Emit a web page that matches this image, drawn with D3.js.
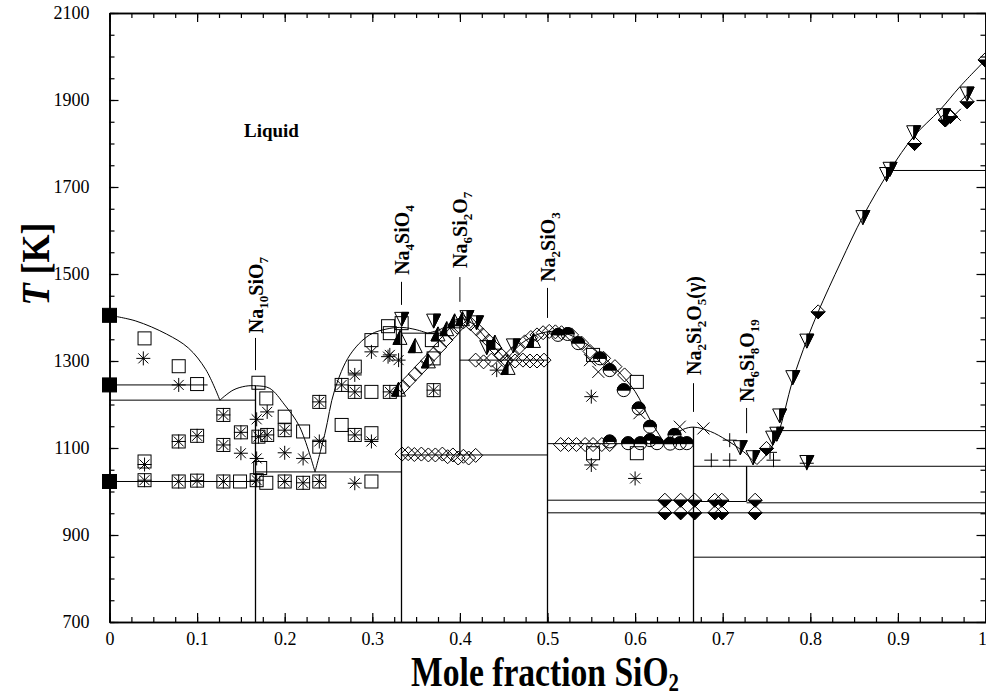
<!DOCTYPE html>
<html><head><meta charset="utf-8">
<script src="https://cdn.jsdelivr.net/npm/d3@7"></script>
<style>body{margin:0;background:#fff}svg{display:block}text{font-family:"Liberation Serif","Times New Roman",serif}</style>
</head><body><svg id="c" width="986" height="696"></svg>
<script>
// ---------- DATA ----------
const xTicks = [0,0.1,0.2,0.3,0.4,0.5,0.6,0.7,0.8,0.9,1];
const yTicks = [700,900,1100,1300,1500,1700,1900,2100];

// liquidus, piecewise between eutectics  [x, T]
const liq1 = [[0,1405],[0.03,1392],[0.065,1362],[0.09,1330],[0.11,1280],[0.126,1210]];
const liq2 = [[0.126,1210],[0.141,1233],[0.155,1242],[0.168,1243],[0.183,1237],[0.2,1199],[0.217,1149],[0.2346,1045]];
const liq3 = [[0.2346,1045],[0.246,1134],[0.257,1233],[0.2745,1314],[0.297,1360],[0.32,1375],[0.335,1377],[0.35,1372],[0.363,1364]];
const liq4 = [[0.363,1364],[0.377,1372],[0.39,1388],[0.4,1398],[0.415,1385],[0.43,1352],[0.453,1302]];
const liq5 = [[0.453,1302],[0.47,1340],[0.49,1362],[0.505,1368],[0.52,1364],[0.54,1345],[0.56,1315],[0.58,1278],[0.6,1230],[0.617,1165],[0.634,1110]];
const liq6 = [[0.634,1110],[0.645,1130],[0.655,1143],[0.667,1148],[0.686,1138],[0.7046,1118],[0.7235,1092],[0.739,1062]];
const liq7 = [[0.739,1062],[0.75,1085],[0.762,1126],[0.78,1256],[0.796,1348],[0.809,1413],[0.835,1528],[0.86,1632],[0.891,1739],[0.918,1816],[0.948,1877],[0.971,1931],[1.0,1992]];

// horizontal invariant lines [x1, x2, T]
const hLines = [[0,0.112,1245],[0,1/6,1210],[0,1/6,1023],[1/6,1/3,1045],[1/3,0.38,1364],[1/3,0.5,1084],[0.4,0.5,1302],
  [0.5,2/3,1110],[0.5,2/3,980],[2/3,8/11,977],[8/11,1,974],[0.5,1,951],[2/3,1,849],[2/3,1,1058],[0.762,1,1140],[0.891,1,1738]];
// vertical compound lines [x, Ttop, Tbottom]
const vLines = [[1/6,1243,700],[1/3,1377,700],[0.4,1398,1084],[0.5,1368,700],[2/3,1148,700],[8/11,1058,977]];

// compound labels: x, T at text start, leader from l1 to l2, text parts [string, isSubscript]
const compounds = [
  {x:1/6, t:1364, l1:1353, l2:1279, parts:[["Na",0],["10",1],["SiO",0],["7",1]]},
  {x:1/3, t:1498, l1:1482, l2:1429, parts:[["Na",0],["4",1],["SiO",0],["4",1]]},
  {x:0.4, t:1514, l1:1493, l2:1436, parts:[["Na",0],["6",1],["Si",0],["2",1],["O",0],["7",1]]},
  {x:0.5, t:1482, l1:1468, l2:1399, parts:[["Na",0],["2",1],["SiO",0],["3",1]]},
  {x:2/3, t:1268, l1:1249, l2:1183, parts:[["Na",0],["2",1],["Si",0],["2",1],["O",0],["5",1],["(γ)",0]]},
  {x:8/11, t:1206, l1:1192, l2:1134, parts:[["Na",0],["6",1],["Si",0],["8",1],["O",0],["19",1]]}
];

// experimental points [x, T]
const filledSquares = [[0,1405],[0,1245],[0,1023]];
const openSquares = [[0.04,1352],[0.079,1288],[0.1,1247],[0.17,1250],[0.179,1214],[0.04,1069],[0.04,1026],[0.079,1115],[0.079,1023],
  [0.1,1128],[0.1,1025],[0.13,1176],[0.13,1107],[0.13,1023],[0.15,1136],[0.149,1023],[0.17,1126],[0.168,1026],[0.179,1020],[0.18,1130],
  [0.172,1054],[0.2,1172],[0.2,1141],[0.2,1023],[0.221,1138],[0.221,1020],[0.2395,1206],[0.2395,1103],[0.2395,1023],[0.265,1245],
  [0.265,1153],[0.28,1287],[0.28,1229],[0.28,1130],[0.299,1348],[0.299,1229],[0.299,1134],[0.299,1023],[0.32,1364],[0.318,1380],
  [0.32,1229],[0.3335,1387],[0.368,1348],[0.37,1306],[0.37,1233],[0.552,1314],[0.602,1252],[0.552,1088],[0.602,1088]];
const asterisks = [[0.0386,1306],[0.079,1245],[0.04,1062],[0.04,1026],[0.079,1115],[0.079,1023],[0.1,1128],[0.1,1025],[0.13,1176],
  [0.13,1107],[0.13,1023],[0.15,1136],[0.15,1088],[0.168,1166],[0.17,1126],[0.168,1076],[0.168,1026],[0.18,1183],[0.18,1130],
  [0.2,1141],[0.2,1089],[0.2,1023],[0.221,1076],[0.221,1020],[0.2395,1206],[0.2395,1115],[0.2395,1023],[0.265,1245],[0.28,1268],
  [0.28,1229],[0.28,1130],[0.28,1019],[0.299,1321],[0.299,1115],[0.32,1314],[0.32,1229],[0.318,1310],[0.33,1302],[0.37,1233],
  [0.442,1279],[0.55,1218],[0.55,1061],[0.6,1030]];
const crosses = [[0.5485,1302],[0.558,1275],[0.605,1180],[0.651,1149],[0.678,1145],[0.965,1866]];
const pluses = [[0.687,1072],[0.708,1072],[0.708,1118],[0.758,1072],[0.796,1065],[0.754,1090]];
const triUp = [[0.3316,1352],[0.349,1333],[0.364,1298],[0.375,1360],[0.33,1233],[0.394,1390],[0.385,1372],[0.44,1341],[0.455,1283],[0.484,1345],[0.403,1395]];
const triDown = [[0.3335,1398],[0.37,1394],[0.408,1402],[0.419,1390],[0.4306,1333],[0.461,1337],[0.72,1103],[0.7346,1080],[0.7617,1134],
  [0.765,1176],[0.78,1264],[0.796,1348],[0.86,1632],[0.887,1731],[0.891,1743],[0.918,1827],[0.952,1866],[0.979,1916],[0.796,1069],[0.757,1125]];
const openDiamonds = [[0.335,1240],[0.342,1255],[0.349,1270],[0.356,1285],[0.363,1300],[0.37,1316],[0.377,1332],[0.384,1348],[0.391,1364],
  [0.397,1378],[0.404,1390],[0.412,1386],[0.419,1374],[0.426,1360],[0.433,1346],[0.44,1330],[0.447,1314],[0.453,1302],[0.46,1316],
  [0.467,1330],[0.474,1344],[0.481,1354],[0.488,1360],[0.495,1365],[0.502,1368],[0.509,1367],[0.516,1365],[0.5275,1360],[0.539,1341],
  [0.5485,1322],[0.564,1306],[0.577,1287],[0.588,1268],[0.418,1302],[0.427,1298],[0.436,1302],[0.452,1298],[0.463,1300],[0.472,1302],
  [0.48,1300],[0.488,1300],[0.496,1302],[0.334,1086],[0.341,1087],[0.348,1085],[0.356,1086],[0.364,1084],[0.372,1084],[0.38,1086],
  [0.386,1080],[0.392,1084],[0.398,1077],[0.404,1081],[0.41,1077],[0.418,1083],[0.515,1108],[0.524,1108],[0.533,1108],[0.543,1108],
  [0.552,1108],[0.562,1108],[0.571,1108]];
const halfCircles = [[0.512,1360],[0.523,1362],[0.535,1341],[0.56,1306],[0.571,1279],[0.587,1233],[0.604,1191],[0.617,1149],
  [0.571,1115],[0.592,1111],[0.606,1111],[0.617,1118],[0.625,1111],[0.64,1110],[0.645,1130],[0.651,1111],[0.659,1111]];
const halfDiamonds = [[0.634,980],[0.652,980],[0.668,980],[0.691,980],[0.699,980],[0.737,980],[0.634,951],[0.652,951],[0.668,951],
  [0.691,951],[0.699,951],[0.737,951],[0.75,1099],[0.809,1413],[0.919,1800],[0.954,1854],[0.96,1862],[0.979,1896],[0.9994,1992]];

// ---------- DRAW ----------
const svg = d3.select('#c');
const X0 = 109.5, X1 = 985.5, Y0 = 622, Y1 = 13;
const x = d3.scaleLinear().domain([0,1]).range([X0,X1]);
const y = d3.scaleLinear().domain([700,2100]).range([Y0,Y1]);

// axes
const minorX = d3.range(0,1.0001,0.025), minorY = d3.range(700,2100.1,50);
function axisG(axis, tr){ return svg.append('g').attr('transform',tr).call(axis); }
const fmtX = d => d===0?"0":(d===1?"1":d3.format(".1f")(d));
axisG(d3.axisBottom(x).tickValues(minorX).tickSize(-5).tickSizeOuter(0).tickFormat(''), `translate(0,${Y0})`);
const bx = axisG(d3.axisBottom(x).tickValues(xTicks).tickSize(-9).tickSizeOuter(0).tickPadding(10).tickFormat(fmtX), `translate(0,${Y0})`);
bx.selectAll('.tick text').filter(d=>d===1).attr('text-anchor','end').attr('dx',1);
axisG(d3.axisTop(x).tickValues(minorX).tickSize(-5).tickSizeOuter(0).tickFormat(''), `translate(0,${Y1})`);
axisG(d3.axisTop(x).tickValues(xTicks).tickSize(-9).tickSizeOuter(0).tickFormat(''), `translate(0,${Y1})`);
axisG(d3.axisLeft(y).tickValues(minorY).tickSize(-5).tickSizeOuter(0).tickFormat(''), `translate(${X0},0)`);
axisG(d3.axisLeft(y).tickValues(yTicks).tickSize(-9).tickSizeOuter(0).tickPadding(20).tickFormat(d3.format('d')), `translate(${X0},0)`);
axisG(d3.axisRight(y).tickValues(minorY).tickSize(-5).tickSizeOuter(0).tickFormat(''), `translate(${X1},0)`);
axisG(d3.axisRight(y).tickValues(yTicks).tickSize(-9).tickSizeOuter(0).tickFormat(''), `translate(${X1},0)`);
svg.selectAll('.domain').attr('stroke','#000').attr('stroke-width',1.6);
svg.selectAll('.tick line').attr('stroke','#000').attr('stroke-width',1.2);
svg.selectAll('.tick text').attr('font-size',18).attr('font-family','"Liberation Serif",serif').attr('fill','#000');

// phase lines
const lg = svg.append('g').attr('stroke','#000').attr('stroke-width',1).attr('fill','none');
hLines.forEach(d=> lg.append('line').attr('x1',x(d[0])).attr('x2',x(d[1])).attr('y1',y(d[2])).attr('y2',y(d[2])));
vLines.forEach(d=> lg.append('line').attr('x1',x(d[0])).attr('x2',x(d[0])).attr('y1',y(d[1])).attr('y2',y(d[2])).attr('stroke-width',1.3));
const line = d3.line().x(d=>x(d[0])).y(d=>y(d[1])).curve(d3.curveCatmullRom.alpha(0.5));
[liq1,liq2,liq3,liq4,liq5,liq6,liq7].forEach(s=> lg.append('path').attr('d',line(s)));

// compound labels
compounds.forEach(c=>{
  lg.append('line').attr('x1',x(c.x)).attr('x2',x(c.x)).attr('y1',y(c.l1)).attr('y2',y(c.l2));
  const tx = x(c.x)+7, ty = y(c.t);
  const t = svg.append('text').attr('transform',`translate(${tx},${ty}) rotate(-90)`).attr('font-size',20).attr('font-weight','bold');
  c.parts.forEach((p,i)=>{
    const prev = i>0?c.parts[i-1]:null;
    let dy = 0;
    if(p[1] && !(prev&&prev[1])) dy = 5;
    if(!p[1] && prev && prev[1]) dy = -5;
    const ts = t.append('tspan').text(p[0]).attr('dy',dy);
    if(p[1]) ts.attr('font-size',13);
  });
});

svg.append('text').attr('x',244).attr('y',137).attr('font-size',19).attr('font-weight','bold').text('Liquid');

// markers
const mg = svg.append('g').attr('stroke','#000').attr('stroke-width',1);
function pts(arr, fn){ arr.forEach(d=> fn(mg.append('g').attr('transform',`translate(${x(d[0])},${y(d[1])})`))); }
pts(openSquares, g=> g.append('rect').attr('x',-6.5).attr('y',-6.5).attr('width',13).attr('height',13).attr('fill','none'));
pts(asterisks, g=> g.append('path').attr('d','M-7,0H7M0,-7V7M-5,-5L5,5M-5,5L5,-5').attr('fill','none'));
pts(crosses, g=> g.append('path').attr('d','M-6,-6L6,6M-6,6L6,-6').attr('fill','none'));
pts(pluses, g=> g.append('path').attr('d','M-7,0H7M0,-7V7').attr('fill','none'));
pts(filledSquares, g=> g.append('rect').attr('x',-7).attr('y',-7).attr('width',14).attr('height',14).attr('fill','#000'));
pts(openDiamonds, g=> g.append('path').attr('d','M0,-7L7,0L0,7L-7,0Z').attr('fill','none'));
pts(halfDiamonds, g=>{ g.append('path').attr('d','M-7,0L0,7L7,0Z').attr('fill','#000');
  g.append('path').attr('d','M0,-7L7,0L0,7L-7,0Z').attr('fill','none'); });
pts(halfCircles, g=>{ g.append('path').attr('d','M-6.5,0A6.5,6.5 0 0 1 6.5,0Z').attr('fill','#000');
  g.append('circle').attr('r',6.5).attr('fill','none'); });
pts(triUp, g=>{ g.append('path').attr('d','M0,-8L-7,6L0,6Z').attr('fill','#000');
  g.append('path').attr('d','M0,-8L7,6L-7,6Z').attr('fill','none'); });
pts(triDown, g=>{ g.append('path').attr('d','M0,-6L7,-6L0,8Z').attr('fill','#000');
  g.append('path').attr('d','M-7,-6L7,-6L0,8Z').attr('fill','none'); });

// axis titles (glyphs in the reference are tall and condensed)
const xt = svg.append('text').attr('transform','translate(545,686) scale(0.8,1)').attr('text-anchor','middle').attr('font-size',42).attr('font-weight','bold');
xt.append('tspan').text('Mole fraction SiO');
xt.append('tspan').text('2').attr('font-size',26).attr('dy',5);
const yt = svg.append('text').attr('transform','translate(49,264) rotate(-90) scale(0.9,1)').attr('text-anchor','middle').attr('font-size',40).attr('font-weight','bold');
yt.append('tspan').text('T').attr('font-style','italic');
yt.append('tspan').text(' [K]');
</script></body></html>
